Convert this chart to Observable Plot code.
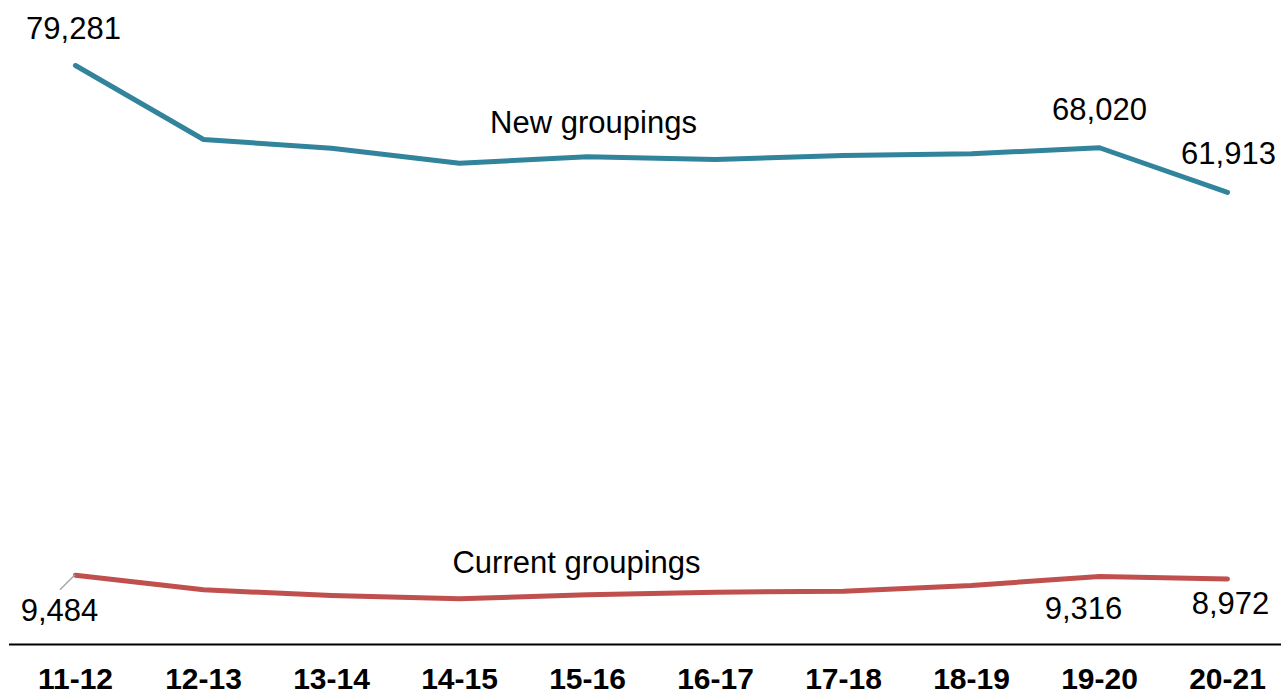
<!DOCTYPE html>
<html>
<head>
<meta charset="utf-8">
<script src="https://cdn.jsdelivr.net/npm/d3@7"></script>
<script src="https://cdn.jsdelivr.net/npm/@observablehq/plot@0.6"></script>
<style>
  html, body { margin: 0; padding: 0; background: #fff; }
  #chart { width: 1281px; height: 695px; }
</style>
</head>
<body>
<div id="chart"></div>
<script>
const years = ["11-12","12-13","13-14","14-15","15-16","16-17","17-18","18-19","19-20","20-21"];
const newGroupings = [79281, 69150, 67950, 65900, 66800, 66400, 66950, 67200, 68020, 61913];
const currentGroupings = [9484, 7490, 6700, 6260, 6800, 7160, 7300, 8080, 9316, 8972];

const seriesNames = ["New groupings", "Current groupings"];
const seriesColors = ["#31849B", "#C0504D"];

// labelled values
const valueLabels = [
  {year: "11-12", value: 79281, text: "79,281", dx: -2, dy: -36},
  {year: "19-20", value: 68020, text: "68,020", dx: 0, dy: -38},
  {year: "20-21", value: 61913, text: "61,913", dx: 1, dy: -38},
  {year: "11-12", value: 9484, text: "9,484", dx: -16, dy: 36},
  {year: "19-20", value: 9316, text: "9,316", dx: -16, dy: 33},
  {year: "20-21", value: 8972, text: "8,972", dx: 3, dy: 25}
];
const seriesLabels = [
  {year: "15-16", value: newGroupings[4], text: seriesNames[0], dx: 6, dy: -34},
  {year: "15-16", value: currentGroupings[4], text: seriesNames[1], dx: -11, dy: -32}
];

const rows = [];
years.forEach((y, i) => {
  rows.push({year: y, value: newGroupings[i], series: seriesNames[0]});
  rows.push({year: y, value: currentGroupings[i], series: seriesNames[1]});
});

const font = "'Liberation Sans', Arial, Helvetica, sans-serif";

// leader line from the 9,484 label to its point
const leader = (index, scales) => {
  const px = scales.x("11-12");
  const py = scales.y(9484);
  return d3.create("svg:line")
    .attr("x1", px).attr("y1", py)
    .attr("x2", px - 15).attr("y2", py + 15)
    .attr("stroke", "#a6a6a6").attr("stroke-width", 1.5)
    .node();
};

const labelMarks = [...valueLabels, ...seriesLabels].map(d =>
  Plot.text([d], {x: "year", y: "value", text: "text", dx: d.dx, dy: d.dy, fontSize: 31, fill: "#000"})
);

const chart = Plot.plot({
  width: 1281,
  height: 695,
  marginTop: 0,
  marginBottom: 51,
  marginLeft: 9,
  marginRight: 0,
  style: {fontFamily: font, background: "#fff", color: "#000"},
  x: {type: "point", domain: years, range: [73, 1229], padding: 0, label: null},
  y: {domain: [0, 79281], range: [644, 65], axis: null},
  color: {domain: seriesNames, range: seriesColors},
  marks: [
    Plot.axisX({tickSize: 0, tickPadding: 23, fontSize: 30, fontWeight: "bold", label: null, fill: "#000"}),
    Plot.ruleY([0], {stroke: "#000", strokeWidth: 2}),
    Plot.line(rows, {x: "year", y: "value", z: "series", stroke: "series", strokeWidth: 5, strokeLinecap: "round", strokeLinejoin: "round"}),
    leader,
    ...labelMarks
  ]
});
document.getElementById("chart").appendChild(chart);
</script>
</body>
</html>
